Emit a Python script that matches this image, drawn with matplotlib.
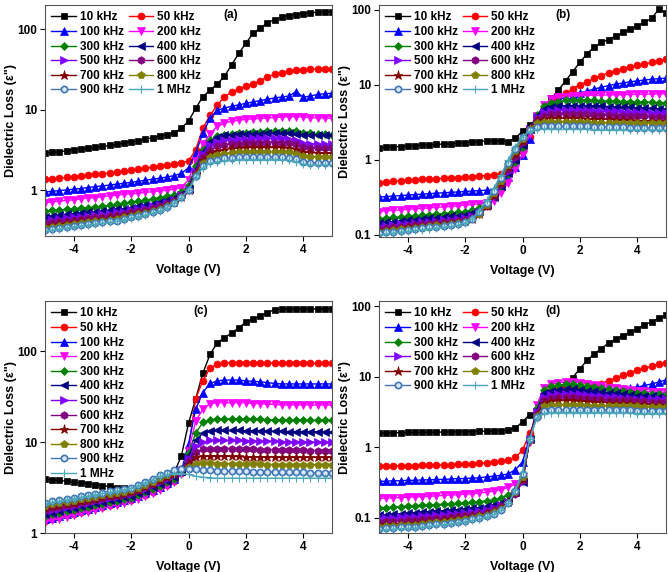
import matplotlib
matplotlib.use("Agg")
import matplotlib.pyplot as plt
from matplotlib.ticker import FixedLocator, FixedFormatter, NullLocator

plt.rcParams['font.family'] = ['Liberation Sans', 'DejaVu Sans']
plt.rcParams['font.weight'] = 'bold'

VOLTAGE = [-5.0, -4.75, -4.5, -4.25, -4.0, -3.75, -3.5, -3.25, -3.0, -2.75,
           -2.5, -2.25, -2.0, -1.75, -1.5, -1.25, -1.0, -0.75, -0.5, -0.25,
           0.0, 0.25, 0.5, 0.75, 1.0, 1.25, 1.5, 1.75, 2.0, 2.25,
           2.5, 2.75, 3.0, 3.25, 3.5, 3.75, 4.0, 4.25, 4.5, 4.75, 5.0]

FREQ_LABELS = ["10 kHz", "50 kHz", "100 kHz", "200 kHz", "300 kHz", "400 kHz",
               "500 kHz", "600 kHz", "700 kHz", "800 kHz", "900 kHz", "1 MHz"]

# ---------------- panel (a) ----------------
A_10k = [2.9, 2.95, 3.0, 3.1, 3.2, 3.25, 3.3, 3.4, 3.5, 3.6, 3.7, 3.85, 4.0, 4.1, 4.3, 4.5, 4.7, 4.9, 5.15, 5.9,
         7.2, 10.4, 14.5, 17.5, 20.8, 26, 36, 50, 67, 89, 103, 120, 132, 142, 148, 152, 156, 160, 163, 165, 166]
A_50k = [1.36, 1.38, 1.41, 1.44, 1.47, 1.5, 1.53, 1.57, 1.6, 1.64, 1.68, 1.72, 1.77, 1.82, 1.87, 1.93, 2.0, 2.06, 2.12, 2.2,
         2.3, 3.2, 5.9, 8.5, 11.4, 14.4, 16.6, 18, 19.5, 21, 23, 25.5, 27.6, 29, 30.3, 31, 31.5, 31.8, 32, 32, 31.8]
A_100k = [0.95, 0.97, 0.99, 1.01, 1.03, 1.05, 1.08, 1.11, 1.13, 1.16, 1.19, 1.22, 1.25, 1.29, 1.33, 1.37, 1.41, 1.46, 1.52, 1.62,
          1.9, 2.9, 5.1, 7.8, 9.8, 10.5, 11.0, 11.5, 12.0, 12.5, 13.0, 13.5, 14.0, 14.4, 14.8, 16.8, 14.3, 14.8, 15.5, 15.8, 16.0]
A_200k = [0.7, 0.72, 0.73, 0.75, 0.76, 0.78, 0.8, 0.81, 0.83, 0.85, 0.87, 0.89, 0.9, 0.92, 0.94, 0.96, 0.98, 1.0, 1.03, 1.08,
          1.35, 2.3, 3.7, 5.0, 6.2, 6.8, 7.2, 7.4, 7.6, 7.7, 7.8, 7.9, 8.0, 8.1, 8.2, 8.2, 8.1, 8.0, 7.9, 7.9, 7.8]
A_300k = [0.55, 0.56, 0.57, 0.58, 0.59, 0.6, 0.61, 0.62, 0.63, 0.65, 0.67, 0.69, 0.71, 0.73, 0.75, 0.78, 0.81, 0.84, 0.88, 0.95,
          1.15, 2.0, 3.2, 4.2, 4.7, 4.9, 5.0, 5.1, 5.2, 5.3, 5.35, 5.4, 5.45, 5.5, 5.5, 5.4, 5.2, 5.1, 5.0, 4.95, 4.9]
A_400k = [0.47, 0.48, 0.49, 0.5, 0.51, 0.52, 0.53, 0.54, 0.55, 0.56, 0.58, 0.59, 0.61, 0.63, 0.65, 0.68, 0.71, 0.75, 0.8, 0.9,
          1.05, 1.8, 3.0, 4.0, 4.6, 4.8, 4.9, 4.95, 5.0, 5.0, 5.05, 5.1, 5.1, 5.1, 5.1, 5.0, 4.9, 4.85, 4.8, 4.8, 4.8]
A_500k = [0.42, 0.43, 0.44, 0.45, 0.46, 0.47, 0.48, 0.49, 0.5, 0.51, 0.53, 0.54, 0.56, 0.58, 0.6, 0.63, 0.66, 0.7, 0.76, 0.87,
          1.02, 1.7, 2.8, 3.6, 4.0, 4.15, 4.25, 4.3, 4.35, 4.4, 4.4, 4.4, 4.4, 4.4, 4.35, 4.2, 3.9, 3.8, 3.75, 3.7, 3.7]
A_600k = [0.39, 0.4, 0.41, 0.42, 0.43, 0.44, 0.45, 0.46, 0.47, 0.48, 0.49, 0.51, 0.53, 0.55, 0.57, 0.6, 0.63, 0.67, 0.73, 0.85,
          1.0, 1.65, 2.6, 3.2, 3.5, 3.65, 3.75, 3.8, 3.85, 3.9, 3.9, 3.9, 3.9, 3.9, 3.85, 3.7, 3.45, 3.35, 3.3, 3.3, 3.3]
A_700k = [0.36, 0.37, 0.38, 0.39, 0.4, 0.41, 0.42, 0.43, 0.44, 0.45, 0.46, 0.48, 0.5, 0.52, 0.54, 0.57, 0.6, 0.65, 0.71, 0.83,
          1.0, 1.6, 2.4, 2.9, 3.1, 3.2, 3.3, 3.35, 3.4, 3.4, 3.4, 3.4, 3.4, 3.4, 3.35, 3.25, 3.0, 2.95, 2.9, 2.9, 2.9]
A_800k = [0.34, 0.35, 0.36, 0.37, 0.38, 0.39, 0.4, 0.41, 0.42, 0.43, 0.44, 0.46, 0.48, 0.5, 0.52, 0.55, 0.58, 0.63, 0.7, 0.82,
          1.0, 1.55, 2.2, 2.6, 2.75, 2.85, 2.9, 2.95, 3.0, 3.0, 3.0, 3.0, 3.0, 3.0, 2.95, 2.85, 2.65, 2.6, 2.6, 2.6, 2.6]
A_900k = [0.32, 0.33, 0.34, 0.35, 0.36, 0.37, 0.38, 0.39, 0.4, 0.41, 0.42, 0.44, 0.46, 0.48, 0.5, 0.53, 0.56, 0.62, 0.7, 0.82,
          1.0, 1.5, 2.0, 2.3, 2.4, 2.5, 2.55, 2.6, 2.6, 2.6, 2.6, 2.6, 2.6, 2.6, 2.55, 2.45, 2.25, 2.2, 2.2, 2.2, 2.2]
A_1M = [0.31, 0.32, 0.33, 0.34, 0.35, 0.36, 0.37, 0.38, 0.39, 0.4, 0.41, 0.43, 0.45, 0.47, 0.49, 0.52, 0.55, 0.61, 0.69, 0.81,
        1.0, 1.45, 1.9, 2.15, 2.25, 2.3, 2.35, 2.4, 2.4, 2.4, 2.4, 2.4, 2.4, 2.4, 2.35, 2.25, 2.1, 2.05, 2.05, 2.05, 2.05]

# ---------------- panel (b) ----------------
B_10k = [1.45, 1.47, 1.49, 1.51, 1.53, 1.55, 1.57, 1.59, 1.61, 1.63, 1.65, 1.67, 1.7, 1.73, 1.76, 1.79, 1.8, 1.78, 1.76, 1.95,
         2.4, 2.9, 3.5, 4.6, 6.6, 8.5, 11.3, 15, 20, 26, 32, 37, 40, 45, 50, 55, 61, 68, 77, 102, 92]
B_50k = [0.5, 0.51, 0.52, 0.53, 0.535, 0.54, 0.55, 0.555, 0.56, 0.57, 0.575, 0.58, 0.59, 0.6, 0.61, 0.62, 0.63, 0.65, 0.75, 1.0,
         1.3, 2.0, 3.2, 4.7, 6.0, 6.8, 7.7, 8.8, 10, 11, 12.2, 13.3, 14.5, 15.5, 16.5, 17.5, 18.3, 19, 20, 21, 22]
B_100k = [0.32, 0.325, 0.33, 0.335, 0.34, 0.345, 0.35, 0.355, 0.36, 0.365, 0.37, 0.375, 0.38, 0.385, 0.39, 0.395, 0.4, 0.45, 0.6, 0.8,
          1.15, 1.9, 3.2, 4.8, 5.7, 6.3, 6.8, 7.3, 7.8, 8.3, 8.8, 9.3, 9.8, 10.2, 10.6, 11.0, 11.3, 11.6, 11.9, 12.1, 12.3]
B_200k = [0.205, 0.21, 0.213, 0.216, 0.22, 0.223, 0.226, 0.23, 0.233, 0.237, 0.24, 0.245, 0.25, 0.255, 0.26, 0.27, 0.28, 0.36, 0.5, 0.75,
          1.2, 2.2, 3.8, 5.4, 6.4, 6.8, 7.0, 7.1, 7.2, 7.25, 7.3, 7.3, 7.35, 7.4, 7.4, 7.45, 7.5, 7.5, 7.55, 7.6, 7.6]
B_300k = [0.165, 0.168, 0.171, 0.174, 0.177, 0.18, 0.183, 0.186, 0.19, 0.193, 0.197, 0.2, 0.205, 0.215, 0.23, 0.27, 0.33, 0.45, 0.65, 0.95,
          1.5, 2.5, 4.0, 5.2, 5.8, 6.0, 6.2, 6.2, 6.2, 6.2, 6.2, 6.15, 6.1, 6.1, 6.0, 6.0, 5.95, 5.9, 5.85, 5.8, 5.8]
B_400k = [0.145, 0.148, 0.151, 0.154, 0.157, 0.16, 0.163, 0.166, 0.17, 0.173, 0.177, 0.18, 0.185, 0.195, 0.21, 0.25, 0.32, 0.45, 0.67, 1.0,
          1.6, 2.6, 3.9, 4.8, 5.1, 5.25, 5.3, 5.3, 5.3, 5.3, 5.25, 5.2, 5.15, 5.1, 5.05, 5.0, 4.95, 4.9, 4.85, 4.8, 4.8]
B_500k = [0.13, 0.133, 0.136, 0.139, 0.142, 0.145, 0.148, 0.151, 0.154, 0.157, 0.16, 0.164, 0.17, 0.18, 0.2, 0.24, 0.32, 0.46, 0.7, 1.05,
          1.7, 2.6, 3.7, 4.3, 4.55, 4.6, 4.65, 4.65, 4.6, 4.6, 4.55, 4.5, 4.5, 4.45, 4.4, 4.35, 4.3, 4.3, 4.25, 4.2, 4.2]
B_600k = [0.12, 0.123, 0.126, 0.129, 0.132, 0.135, 0.138, 0.141, 0.144, 0.147, 0.15, 0.155, 0.16, 0.17, 0.19, 0.24, 0.33, 0.48, 0.75, 1.1,
          1.75, 2.6, 3.5, 3.9, 4.05, 4.1, 4.1, 4.1, 4.1, 4.05, 4.0, 4.0, 3.95, 3.9, 3.9, 3.85, 3.8, 3.8, 3.75, 3.7, 3.7]
B_700k = [0.115, 0.118, 0.121, 0.124, 0.127, 0.13, 0.133, 0.136, 0.139, 0.142, 0.145, 0.15, 0.155, 0.165, 0.19, 0.24, 0.34, 0.5, 0.8, 1.2,
          1.8, 2.6, 3.3, 3.55, 3.6, 3.6, 3.6, 3.6, 3.6, 3.55, 3.5, 3.5, 3.5, 3.45, 3.4, 3.4, 3.35, 3.35, 3.3, 3.3, 3.3]
B_800k = [0.11, 0.113, 0.116, 0.119, 0.122, 0.125, 0.128, 0.131, 0.134, 0.137, 0.14, 0.145, 0.15, 0.162, 0.19, 0.25, 0.36, 0.53, 0.85, 1.3,
          1.9, 2.6, 3.1, 3.2, 3.2, 3.2, 3.2, 3.2, 3.2, 3.2, 3.15, 3.15, 3.15, 3.15, 3.1, 3.1, 3.1, 3.1, 3.1, 3.1, 3.1]
B_900k = [0.105, 0.108, 0.111, 0.114, 0.117, 0.12, 0.123, 0.126, 0.129, 0.132, 0.135, 0.14, 0.148, 0.162, 0.2, 0.27, 0.39, 0.58, 0.9, 1.4,
          2.0, 2.5, 2.75, 2.8, 2.8, 2.8, 2.8, 2.8, 2.8, 2.8, 2.75, 2.75, 2.75, 2.75, 2.75, 2.7, 2.7, 2.7, 2.7, 2.7, 2.7]
B_1M = [0.1, 0.103, 0.106, 0.109, 0.112, 0.115, 0.118, 0.121, 0.124, 0.127, 0.13, 0.135, 0.145, 0.165, 0.21, 0.29, 0.42, 0.63, 1.0, 1.5,
        2.05, 2.4, 2.55, 2.55, 2.55, 2.55, 2.55, 2.55, 2.55, 2.55, 2.5, 2.5, 2.5, 2.5, 2.5, 2.5, 2.5, 2.5, 2.5, 2.5, 2.5]

# ---------------- panel (c) ----------------
C_10k = [3.9, 3.85, 3.8, 3.7, 3.6, 3.55, 3.5, 3.4, 3.3, 3.25, 3.15, 3.1, 3.05, 3.1, 3.2, 3.35, 3.55, 3.9, 4.6, 7.0,
         16, 30, 57, 92, 123, 140, 158, 180, 208, 225, 242, 265, 285, 290, 290, 290, 290, 290, 290, 290, 290]
C_50k = [1.37, 1.43, 1.5, 1.56, 1.63, 1.71, 1.78, 1.86, 1.95, 2.04, 2.13, 2.22, 2.32, 2.47, 2.63, 2.85, 3.11, 3.4, 3.74, 4.6,
         8.5, 30, 47, 65, 72, 74, 74, 74, 74, 74, 74, 74, 74, 73.5, 73.5, 73.5, 73, 73, 73, 73, 73]
C_100k = [1.42, 1.48, 1.55, 1.62, 1.69, 1.77, 1.85, 1.93, 2.02, 2.11, 2.21, 2.3, 2.41, 2.56, 2.73, 2.95, 3.22, 3.52, 3.88, 4.8,
          9.5, 23, 35, 44, 47, 48, 48, 48, 47, 46.5, 46, 45, 44, 43.5, 43.5, 43.5, 43.5, 43.5, 43.5, 43.5, 43.5]
C_200k = [1.32, 1.38, 1.44, 1.51, 1.57, 1.64, 1.72, 1.8, 1.88, 1.96, 2.05, 2.14, 2.24, 2.38, 2.53, 2.75, 3.0, 3.27, 3.6, 4.5,
          8.0, 17, 23, 26.5, 27, 27, 27, 27, 27, 26.5, 26.5, 26, 26, 25.5, 25.5, 25.5, 25.5, 25.5, 25.5, 25.5, 25.5]
C_300k = [1.55, 1.61, 1.67, 1.74, 1.81, 1.88, 1.95, 2.02, 2.1, 2.19, 2.27, 2.36, 2.45, 2.62, 2.81, 3.04, 3.3, 3.6, 3.92, 4.7,
          7.5, 12.5, 16.5, 17.5, 18, 18, 18, 18, 18, 17.8, 17.8, 17.6, 17.5, 17.5, 17.4, 17.4, 17.3, 17.3, 17.3, 17.3, 17.3]
C_400k = [1.62, 1.68, 1.75, 1.82, 1.89, 1.96, 2.04, 2.12, 2.2, 2.28, 2.37, 2.47, 2.56, 2.74, 2.93, 3.18, 3.45, 3.76, 4.1, 4.8,
          7.0, 10.5, 12.5, 13.2, 13.4, 13.4, 13.4, 13.4, 13.3, 13.3, 13.2, 13.2, 13.1, 13.1, 13.0, 13.0, 13.0, 13.0, 13.0, 13.0, 13.0]
C_500k = [1.7, 1.77, 1.83, 1.91, 1.98, 2.06, 2.14, 2.22, 2.31, 2.4, 2.49, 2.59, 2.69, 2.87, 3.08, 3.33, 3.62, 3.94, 4.3, 4.9,
          6.5, 9.0, 10.0, 10.4, 10.4, 10.4, 10.4, 10.4, 10.3, 10.3, 10.2, 10.2, 10.2, 10.1, 10.1, 10.1, 10.0, 10.0, 10.0, 10.0, 10.0]
C_600k = [1.8, 1.87, 1.94, 2.02, 2.1, 2.18, 2.26, 2.35, 2.44, 2.54, 2.64, 2.74, 2.85, 3.04, 3.26, 3.53, 3.83, 4.18, 4.55, 5.0,
          6.2, 7.8, 8.3, 8.4, 8.4, 8.4, 8.4, 8.3, 8.3, 8.3, 8.2, 8.2, 8.2, 8.1, 8.1, 8.1, 8.1, 8.0, 8.0, 8.0, 8.0]
C_700k = [1.9, 1.96, 2.03, 2.09, 2.16, 2.23, 2.3, 2.38, 2.46, 2.54, 2.62, 2.7, 2.79, 3.0, 3.23, 3.5, 3.8, 4.09, 4.43, 4.9,
          5.8, 6.8, 7.0, 7.0, 7.0, 7.0, 6.95, 6.95, 6.9, 6.9, 6.9, 6.85, 6.85, 6.8, 6.8, 6.8, 6.8, 6.8, 6.8, 6.8, 6.8]
C_800k = [2.0, 2.07, 2.13, 2.2, 2.27, 2.35, 2.42, 2.5, 2.59, 2.67, 2.76, 2.85, 2.94, 3.16, 3.4, 3.68, 4.0, 4.3, 4.66, 5.0,
          5.3, 5.8, 5.9, 5.85, 5.8, 5.8, 5.75, 5.75, 5.7, 5.7, 5.7, 5.65, 5.65, 5.6, 5.6, 5.6, 5.6, 5.6, 5.6, 5.6, 5.6]
C_900k = [2.15, 2.22, 2.29, 2.37, 2.44, 2.52, 2.61, 2.69, 2.78, 2.87, 2.96, 3.06, 3.16, 3.4, 3.66, 3.96, 4.3, 4.62, 4.9, 5.0,
          5.0, 5.0, 4.95, 4.9, 4.85, 4.8, 4.8, 4.75, 4.75, 4.7, 4.7, 4.7, 4.7, 4.65, 4.65, 4.65, 4.65, 4.6, 4.6, 4.6, 4.6]
C_1M = [2.1, 2.17, 2.24, 2.31, 2.39, 2.47, 2.55, 2.63, 2.72, 2.8, 2.89, 2.99, 3.09, 3.32, 3.57, 3.86, 4.2, 4.4, 4.5, 4.5,
        4.4, 4.2, 4.1, 4.05, 4.0, 4.0, 4.0, 4.0, 4.0, 4.0, 4.0, 4.0, 4.0, 4.0, 4.0, 4.0, 4.0, 4.0, 4.0, 4.0, 4.0]

# ---------------- panel (d) ----------------
D_10k = [1.6, 1.6, 1.61, 1.61, 1.62, 1.62, 1.63, 1.63, 1.64, 1.64, 1.65, 1.65, 1.66, 1.67, 1.68, 1.69, 1.7, 1.72, 1.75, 1.85,
         2.3, 2.9, 3.1, 4.0, 5.0, 6.0, 7.5, 9.7, 13, 17, 21, 25, 30, 34, 38, 43, 48, 54, 60, 67, 75]
D_50k = [0.54, 0.54, 0.545, 0.545, 0.55, 0.55, 0.555, 0.555, 0.56, 0.56, 0.565, 0.57, 0.575, 0.58, 0.59, 0.6, 0.61, 0.63, 0.66, 0.72,
         0.9, 1.6, 2.7, 4.8, 6.2, 6.8, 7.0, 7.0, 7.0, 7.1, 7.4, 8.0, 8.8, 9.6, 10.5, 11.4, 12.3, 13.2, 14.1, 15.0, 15.8]
D_100k = [0.33, 0.33, 0.335, 0.335, 0.34, 0.34, 0.345, 0.345, 0.35, 0.35, 0.355, 0.36, 0.36, 0.365, 0.37, 0.38, 0.39, 0.4, 0.42, 0.48,
          0.62, 1.4, 3.0, 5.0, 6.0, 6.4, 6.6, 6.6, 6.5, 6.4, 6.3, 6.3, 6.3, 6.4, 6.6, 6.8, 7.1, 7.5, 7.9, 8.4, 9.0]
D_200k = [0.19, 0.19, 0.192, 0.194, 0.196, 0.198, 0.2, 0.202, 0.205, 0.208, 0.21, 0.213, 0.216, 0.22, 0.225, 0.23, 0.24, 0.25, 0.27, 0.3,
          0.38, 1.2, 4.0, 7.0, 7.8, 8.2, 8.4, 8.4, 8.2, 8.0, 7.7, 7.4, 7.0, 6.8, 6.6, 6.4, 6.3, 6.2, 6.1, 6.0, 6.0]
D_300k = [0.14, 0.14, 0.142, 0.144, 0.146, 0.148, 0.15, 0.152, 0.154, 0.156, 0.158, 0.16, 0.163, 0.166, 0.17, 0.175, 0.18, 0.19, 0.21, 0.25,
          0.33, 1.25, 3.6, 6.5, 7.3, 7.6, 7.8, 7.8, 7.6, 7.4, 7.2, 6.9, 6.6, 6.4, 6.2, 6.0, 5.9, 5.8, 5.7, 5.6, 5.5]
D_400k = [0.11, 0.11, 0.112, 0.114, 0.116, 0.118, 0.12, 0.122, 0.124, 0.126, 0.128, 0.13, 0.133, 0.136, 0.14, 0.145, 0.15, 0.16, 0.18, 0.23,
          0.32, 1.3, 3.4, 5.8, 6.3, 6.5, 6.6, 6.6, 6.5, 6.3, 6.2, 6.0, 5.9, 5.8, 5.6, 5.5, 5.4, 5.4, 5.3, 5.2, 5.2]
D_500k = [0.1, 0.1, 0.101, 0.102, 0.103, 0.104, 0.105, 0.107, 0.109, 0.111, 0.113, 0.115, 0.118, 0.121, 0.125, 0.13, 0.14, 0.15, 0.17, 0.22,
          0.32, 1.3, 3.2, 5.2, 5.5, 5.6, 5.7, 5.7, 5.6, 5.5, 5.4, 5.3, 5.2, 5.1, 5.0, 5.0, 4.9, 4.9, 4.8, 4.8, 4.8]
D_600k = [0.088, 0.089, 0.09, 0.091, 0.092, 0.093, 0.095, 0.097, 0.099, 0.101, 0.103, 0.105, 0.108, 0.111, 0.115, 0.12, 0.13, 0.145, 0.165, 0.22,
          0.34, 1.3, 3.0, 4.7, 5.0, 5.1, 5.1, 5.1, 5.0, 5.0, 4.9, 4.8, 4.7, 4.7, 4.6, 4.6, 4.5, 4.5, 4.4, 4.4, 4.4]
D_700k = [0.08, 0.081, 0.082, 0.083, 0.084, 0.085, 0.087, 0.089, 0.091, 0.093, 0.095, 0.098, 0.101, 0.105, 0.11, 0.115, 0.125, 0.14, 0.165, 0.23,
          0.36, 1.3, 2.9, 4.3, 4.5, 4.6, 4.6, 4.6, 4.5, 4.5, 4.4, 4.4, 4.3, 4.3, 4.2, 4.2, 4.1, 4.1, 4.0, 4.0, 4.0]
D_800k = [0.075, 0.076, 0.077, 0.078, 0.079, 0.08, 0.082, 0.084, 0.086, 0.088, 0.09, 0.093, 0.096, 0.1, 0.105, 0.11, 0.12, 0.135, 0.16, 0.23,
          0.38, 1.3, 2.8, 3.8, 4.0, 4.0, 4.0, 4.0, 4.0, 3.9, 3.9, 3.9, 3.9, 3.8, 3.8, 3.8, 3.8, 3.7, 3.7, 3.7, 3.7]
D_900k = [0.07, 0.071, 0.072, 0.073, 0.074, 0.075, 0.077, 0.079, 0.081, 0.083, 0.085, 0.088, 0.091, 0.095, 0.1, 0.106, 0.115, 0.13, 0.16, 0.24,
          0.42, 1.3, 2.7, 3.3, 3.4, 3.4, 3.4, 3.4, 3.4, 3.4, 3.4, 3.4, 3.4, 3.35, 3.35, 3.35, 3.3, 3.3, 3.3, 3.3, 3.3]
D_1M = [0.067, 0.068, 0.069, 0.07, 0.071, 0.072, 0.074, 0.076, 0.078, 0.08, 0.082, 0.085, 0.088, 0.092, 0.097, 0.103, 0.112, 0.128, 0.16, 0.25,
        0.45, 1.3, 2.6, 3.0, 3.1, 3.1, 3.1, 3.1, 3.1, 3.1, 3.1, 3.1, 3.1, 3.05, 3.05, 3.05, 3.0, 3.0, 3.0, 3.0, 3.0]

PANEL_A = [A_10k, A_50k, A_100k, A_200k, A_300k, A_400k, A_500k, A_600k, A_700k, A_800k, A_900k, A_1M]
PANEL_B = [B_10k, B_50k, B_100k, B_200k, B_300k, B_400k, B_500k, B_600k, B_700k, B_800k, B_900k, B_1M]
PANEL_C = [C_10k, C_50k, C_100k, C_200k, C_300k, C_400k, C_500k, C_600k, C_700k, C_800k, C_900k, C_1M]
PANEL_D = [D_10k, D_50k, D_100k, D_200k, D_300k, D_400k, D_500k, D_600k, D_700k, D_800k, D_900k, D_1M]

# styles (Origin-like)
STYLES = [
    dict(color='#000000', marker='s', ms=4.5),
    dict(color='#ff0000', marker='o', ms=5),
    dict(color='#0000ff', marker='^', ms=5.5),
    dict(color='#ff00ff', marker='v', ms=5.5),
    dict(color='#008000', marker='D', ms=4.2),
    dict(color='#000080', marker='<', ms=5.5),
    dict(color='#8000ff', marker='>', ms=5.5),
    dict(color='#800080', marker='h', ms=5.5),
    dict(color='#800000', marker='*', ms=6.5),
    dict(color='#808000', marker='p', ms=5.5),
    dict(color='#3f76b5', marker='o', ms=4.5, mfc='#dce8f5'),
    dict(color='#4aa8b8', marker='+', ms=6),
]

fig = plt.figure(figsize=(6.68, 5.72), dpi=100)

W = 287 / 668
panels = [
    dict(data=PANEL_A, rect=[45 / 668, 1 - 236 / 572, W, 231 / 572], ylim=(0.27, 200),
         yticks=[1, 10, 100], ylabels=['1', '10', '100'], tag='(a)', tagx=0.62, ncol=2),
    dict(data=PANEL_B, rect=[379 / 668, 1 - 237 / 572, W, 232 / 572], ylim=(0.094, 116),
         yticks=[0.1, 1, 10, 100], ylabels=['0.1', '1', '10', '100'], tag='(b)', tagx=0.616, ncol=2),
    dict(data=PANEL_C, rect=[45 / 668, 1 - 533 / 572, W, 232 / 572], ylim=(1, 355),
         yticks=[1, 10, 100], ylabels=['1', '10', '100'], tag='(c)', tagx=0.516, ncol=1),
    dict(data=PANEL_D, rect=[379 / 668, 1 - 533 / 572, W, 232 / 572], ylim=(0.061, 118),
         yticks=[0.1, 1, 10, 100], ylabels=['0.1', '1', '10', '100'], tag='(d)', tagx=0.58, ncol=2),
]

for p in panels:
    ax = fig.add_axes(p['rect'])
    for series, label, st in zip(p['data'], FREQ_LABELS, STYLES):
        kw = dict(color=st['color'], marker=st['marker'], markersize=st['ms'],
                  linewidth=1.0, label=label, markeredgewidth=0.8 if st['marker'] == '+' else 0.5)
        if 'mfc' in st:
            kw['markerfacecolor'] = st['mfc']
            kw['markeredgewidth'] = 1.2
        ax.plot(VOLTAGE, series, **kw)
    ax.set_yscale('log')
    ax.set_xlim(-5, 5)
    ax.set_ylim(*p['ylim'])
    ax.yaxis.set_major_locator(FixedLocator(p['yticks']))
    ax.yaxis.set_major_formatter(FixedFormatter(p['ylabels']))
    ax.yaxis.set_minor_locator(NullLocator())
    ax.set_xticks([-4, -2, 0, 2, 4])
    ax.set_xticklabels(['-4', '-2', '0', '2', '4'])
    ax.tick_params(direction='out', length=3.5, width=0.8, labelsize=8.5, pad=2)
    for lab in ax.get_xticklabels() + ax.get_yticklabels():
        lab.set_fontweight('bold')
    for sp in ax.spines.values():
        sp.set_linewidth(0.8)
        sp.set_color('#555555')
    ax.set_xlabel('Voltage (V)', fontsize=9, fontweight='bold', labelpad=6)
    ax.set_ylabel('Dielectric Loss (\u03b5")', fontsize=9, fontweight='bold', labelpad=0.5)
    ax.text(p['tagx'], 0.958, p['tag'], transform=ax.transAxes, fontsize=8.5,
            fontweight='bold', ha='left', va='center')
    handles, labels = ax.get_legend_handles_labels()
    if p['ncol'] == 2:
        order = [0, 2, 4, 6, 8, 10, 1, 3, 5, 7, 9, 11]
        handles = [handles[i] for i in order]
        labels = [labels[i] for i in order]
    ax.legend(handles, labels, loc='upper left', bbox_to_anchor=(0.0, 1.0), ncol=p['ncol'],
              frameon=False, prop=dict(size=8.5, weight='bold'), handlelength=2.1,
              handletextpad=0.35, columnspacing=0.35, labelspacing=0.22,
              borderpad=0.35, borderaxespad=0.2)

fig.savefig('out.png', dpi=100)
